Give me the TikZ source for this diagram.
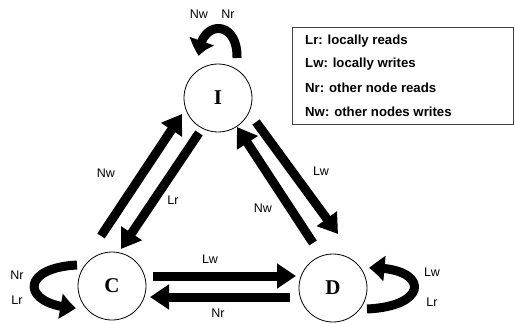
\documentclass[tikz,border=0pt]{standalone}
\usepackage{fontspec}
\setmainfont{Liberation Serif}
\newfontfamily\lab{Liberation Sans}
\usetikzlibrary{arrows.meta,bending}
\begin{document}
\begin{tikzpicture}[x=1pt,y=-1pt,
  state/.style={draw,circle,line width=0.8pt,minimum size=68pt,inner sep=0pt,font=\fontsize{21}{21}\selectfont\bfseries},
  big/.style={line width=9pt,-{Triangle[width=24pt,length=19pt]}},
  loopa/.style={line width=9pt,-{Triangle[width=24pt,length=16pt,bend]}},
  lbl/.style={font=\lab\fontsize{12.5}{12.5}\selectfont,inner sep=0pt},
  leg/.style={font=\lab\bfseries\fontsize{13.2}{13.2}\selectfont,inner sep=0pt,anchor=west}]
\useasboundingbox (0,0) rectangle (515,324);
\node[state] (I) at (218,98) {I};
\node[state] (C) at (112,286) {C};
\node[state] (D) at (333,288) {D};
% endpoints
\coordinate (lr1) at (199,133); \coordinate (lr2) at (121,249);
\coordinate (nw1) at (101,236); \coordinate (nw2) at (182,114);
\coordinate (lw1) at (256,122); \coordinate (lw2) at (338,234);
\coordinate (nd1) at (313,243); \coordinate (nd2) at (237,127);
\coordinate (h1) at (153,276);  \coordinate (h2) at (296,276);
\coordinate (r1) at (290,297);  \coordinate (r2) at (150,297);
\draw[big] (lr1) -- (lr2);
\draw[big] (nw1) -- (nw2);
\draw[big] (lw1) -- (lw2);
\draw[big] (nd1) -- (nd2);
\draw[big] (h1) -- (h2);
\draw[big] (r1) -- (r2);
% self loops
\coordinate (ia) at (237,58); \coordinate (ib) at (199,56);
\draw[loopa] (ia) .. controls (238,18) and (199,20) .. (ib);
\coordinate (ca) at (77,265); \coordinate (cb) at (76,308);
\draw[loopa] (ca) .. controls (18,268) and (22,306) .. (cb);
\coordinate (da) at (367,309); \coordinate (db) at (369,268);
\draw[loopa] (da) .. controls (432,306) and (428,266) .. (db);
% labels
\node[lbl] (l1) at (199,14) {Nw};
\node[lbl] (l2) at (228,14) {Nr};
\node[lbl] (l3) at (106,173) {Nw};
\node[lbl] (l4) at (173,200) {Lr};
\node[lbl] (l5) at (210,259) {Lw};
\node[lbl] (l6) at (321,171) {Lw};
\node[lbl] (l7) at (263,208) {Nw};
\node[lbl] (l8) at (218,313) {Nr};
\node[lbl] (l9) at (17,275) {Nr};
\node[lbl] (l10) at (17,300) {Lr};
\node[lbl] (l11) at (432,272) {Lw};
\node[lbl] (l12) at (432,302) {Lr};
% legend
\node[draw=black!75,line width=0.9pt,minimum width=221pt,minimum height=97pt,anchor=north west] (box) at (292,27) {};
\node[leg] (g1) at (305,41) {Lr: locally reads};
\node[leg] (g2) at (305,64) {Lw: locally writes};
\node[leg] (g3) at (305,88) {Nr: other node reads};
\node[leg] (g4) at (305,112) {Nw: other nodes writes};
\end{tikzpicture}
\end{document}
